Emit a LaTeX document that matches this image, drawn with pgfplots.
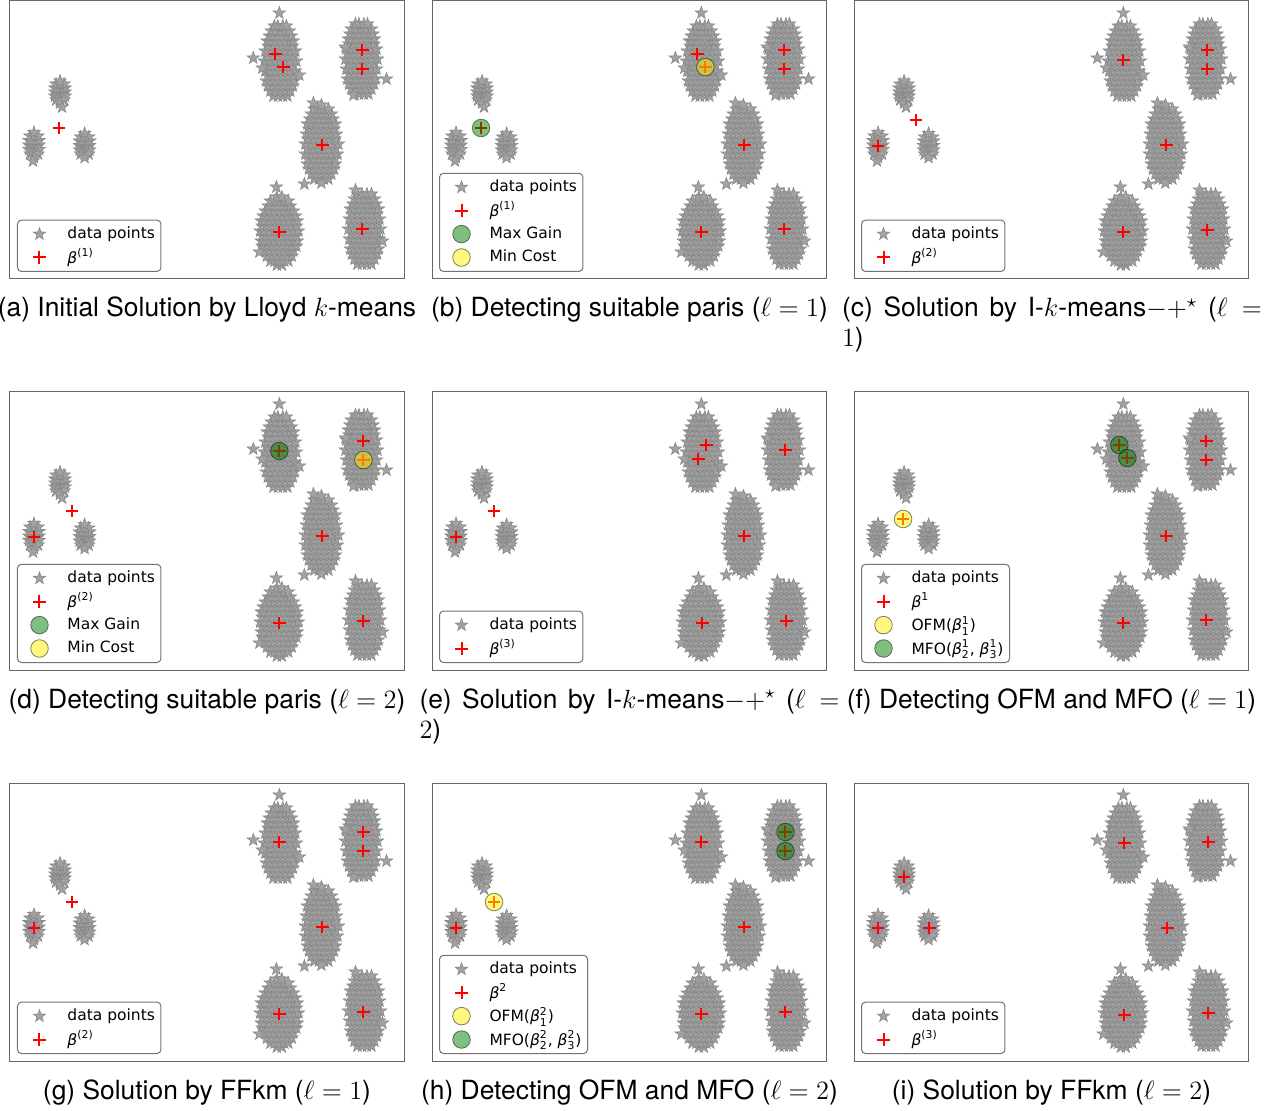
\RequirePackage{fix-cm}
\documentclass[border=0pt]{standalone}
\usepackage{amsmath}
\usepackage{fontspec}
\setmainfont{TeX Gyre Heros}
\newfontfamily\dejavu{DejaVu Sans}
\usepackage{pgfplots}
\pgfplotsset{compat=1.18}
\usepackage{pgfplotstable}
\usetikzlibrary{plotmarks}

\definecolor{starfill}{RGB}{162,162,162}
\definecolor{staredge}{RGB}{136,136,136}
\definecolor{mgreen}{RGB}{0,128,0}

\pgfdeclareplotmark{fstar}{%
  \pgfpathmoveto{\pgfpointpolar{90}{\pgfplotmarksize}}%
  \pgfpathlineto{\pgfpointpolar{126}{0.4\pgfplotmarksize}}%
  \pgfpathlineto{\pgfpointpolar{162}{\pgfplotmarksize}}%
  \pgfpathlineto{\pgfpointpolar{198}{0.4\pgfplotmarksize}}%
  \pgfpathlineto{\pgfpointpolar{234}{\pgfplotmarksize}}%
  \pgfpathlineto{\pgfpointpolar{270}{0.4\pgfplotmarksize}}%
  \pgfpathlineto{\pgfpointpolar{306}{\pgfplotmarksize}}%
  \pgfpathlineto{\pgfpointpolar{342}{0.4\pgfplotmarksize}}%
  \pgfpathlineto{\pgfpointpolar{18}{\pgfplotmarksize}}%
  \pgfpathlineto{\pgfpointpolar{54}{0.4\pgfplotmarksize}}%
  \pgfpathclose
  \pgfusepathqfillstroke
}

\newcommand{\B}{\textit{β}}

% data points: one row per point (x y), several points per source line
\pgfplotstableread[row sep=\\]{
x y\\
263 183\\ 267.5 183\\ 272.5 183\\ 277 183\\
260 188\\ 265 188\\ 270 188\\ 275 188\\ 280 188\\
257.5 193\\ 262.5 193\\ 267.5 193\\ 272.5 193\\ 277.5 193\\ 282.5 193\\
256 198\\ 260 198\\ 265 198\\ 270 198\\ 275 198\\ 280 198\\ 284 198\\
257.5 203\\ 262.5 203\\ 267.5 203\\ 272.5 203\\ 277.5 203\\ 282.5 203\\
255 208\\ 260 208\\ 265 208\\ 270 208\\ 275 208\\ 280 208\\ 285 208\\
257.5 213\\ 262.5 213\\ 267.5 213\\ 272.5 213\\ 277.5 213\\ 282.5 213\\
254 218\\ 260 218\\ 265 218\\ 270 218\\ 275 218\\ 280 218\\ 286 218\\
257.5 223\\ 262.5 223\\ 267.5 223\\ 272.5 223\\ 277.5 223\\ 282.5 223\\
255 228\\ 260 228\\ 265 228\\ 270 228\\ 275 228\\ 280 228\\ 285 228\\
258 233\\ 262.5 233\\ 267.5 233\\ 272.5 233\\ 277.5 233\\ 282 233\\
257 238\\ 260 238\\ 265 238\\ 270 238\\ 275 238\\ 280 238\\ 283 238\\
259 243\\ 262.5 243\\ 267.5 243\\ 272.5 243\\ 277.5 243\\ 281 243\\
261 248\\ 265 248\\ 270 248\\ 275 248\\ 279 248\\
264 253\\ 267.5 253\\ 272.5 253\\ 276 253\\
269 266\\ 243 221\\ 289 204\\ 252 211\\
344 185\\ 348.5 185\\ 353.5 185\\ 358 185\\
341 190\\ 346 190\\ 351 190\\ 356 190\\ 361 190\\
338.5 195\\ 343.5 195\\ 348.5 195\\ 353.5 195\\ 358.5 195\\ 363.5 195\\
337 200\\ 341 200\\ 346 200\\ 351 200\\ 356 200\\ 361 200\\ 365 200\\
338.5 205\\ 343.5 205\\ 348.5 205\\ 353.5 205\\ 358.5 205\\ 363.5 205\\
336 210\\ 341 210\\ 346 210\\ 351 210\\ 356 210\\ 361 210\\ 366 210\\
338.5 215\\ 343.5 215\\ 348.5 215\\ 353.5 215\\ 358.5 215\\ 363.5 215\\
335 220\\ 341 220\\ 346 220\\ 351 220\\ 356 220\\ 361 220\\ 367 220\\
338.5 225\\ 343.5 225\\ 348.5 225\\ 353.5 225\\ 358.5 225\\ 363.5 225\\
336 230\\ 341 230\\ 346 230\\ 351 230\\ 356 230\\ 361 230\\ 366 230\\
338.5 235\\ 343.5 235\\ 348.5 235\\ 353.5 235\\ 358.5 235\\ 363.5 235\\
338 240\\ 341 240\\ 346 240\\ 351 240\\ 356 240\\ 361 240\\ 364 240\\
339.5 245\\ 343.5 245\\ 348.5 245\\ 353.5 245\\ 358.5 245\\ 362.5 245\\
341 250\\ 346 250\\ 351 250\\ 356 250\\ 361 250\\
345 255\\ 348.5 255\\ 353.5 255\\ 357 255\\
376 200\\ 343 184\\ 335 232\\
304 100\\ 308.5 100\\ 313.5 100\\ 318 100\\
301 105\\ 306 105\\ 311 105\\ 316 105\\ 321 105\\
298.5 110\\ 303.5 110\\ 308.5 110\\ 313.5 110\\ 318.5 110\\ 323.5 110\\
297 115\\ 301 115\\ 306 115\\ 311 115\\ 316 115\\ 321 115\\ 325 115\\
297.5 120\\ 303.5 120\\ 308.5 120\\ 313.5 120\\ 318.5 120\\ 324.5 120\\
295 125\\ 301 125\\ 306 125\\ 311 125\\ 316 125\\ 321 125\\ 327 125\\
297.5 130\\ 303.5 130\\ 308.5 130\\ 313.5 130\\ 318.5 130\\ 324.5 130\\
295 135\\ 301 135\\ 306 135\\ 311 135\\ 316 135\\ 321 135\\ 328 135\\
297.5 140\\ 303.5 140\\ 308.5 140\\ 313.5 140\\ 318.5 140\\ 324.5 140\\
296 145\\ 301 145\\ 306 145\\ 311 145\\ 316 145\\ 321 145\\ 326 145\\
298.5 150\\ 303.5 150\\ 308.5 150\\ 313.5 150\\ 318.5 150\\ 323.5 150\\
297 155\\ 301 155\\ 306 155\\ 311 155\\ 316 155\\ 321 155\\ 325 155\\
299.5 160\\ 303.5 160\\ 308.5 160\\ 313.5 160\\ 318.5 160\\ 322.5 160\\
301 165\\ 306 165\\ 311 165\\ 316 165\\ 321 165\\
304 170\\ 308.5 170\\ 313.5 170\\ 318 170\\
311 96\\ 311 174\\ 294 95\\ 303 176\\
266.5 14\\ 271.5 14\\
260 18\\ 264 18\\ 269 18\\ 274 18\\ 278 18\\
256.5 23\\ 261.5 23\\ 266.5 23\\ 271.5 23\\ 276.5 23\\ 281.5 23\\
255 28\\ 259 28\\ 264 28\\ 269 28\\ 274 28\\ 279 28\\ 283 28\\
252 33\\ 256.5 33\\ 261.5 33\\ 266.5 33\\ 271.5 33\\ 276.5 33\\ 281.5 33\\ 286 33\\
251 38\\ 254 38\\ 259 38\\ 264 38\\ 269 38\\ 274 38\\ 279 38\\ 284 38\\ 287 38\\
252 43\\ 256.5 43\\ 261.5 43\\ 266.5 43\\ 271.5 43\\ 276.5 43\\ 281.5 43\\ 286 43\\
250 48\\ 254 48\\ 259 48\\ 264 48\\ 269 48\\ 274 48\\ 279 48\\ 284 48\\ 288 48\\
252 53\\ 256.5 53\\ 261.5 53\\ 266.5 53\\ 271.5 53\\ 276.5 53\\ 281.5 53\\ 286 53\\
251 58\\ 254 58\\ 259 58\\ 264 58\\ 269 58\\ 274 58\\ 279 58\\ 284 58\\ 287 58\\
253 63\\ 256.5 63\\ 261.5 63\\ 266.5 63\\ 271.5 63\\ 276.5 63\\ 281.5 63\\ 285 63\\
255 68\\ 259 68\\ 264 68\\ 269 68\\ 274 68\\ 279 68\\ 283 68\\
258 73\\ 261.5 73\\ 266.5 73\\ 271.5 73\\ 276.5 73\\ 280 73\\
260 78\\ 264 78\\ 269 78\\ 274 78\\ 278 78\\
266.5 82\\ 271.5 82\\
266 92\\ 249 27\\
347 15\\ 351.5 15\\ 356.5 15\\ 361 15\\
344 20\\ 349 20\\ 354 20\\ 359 20\\ 364 20\\
341.5 25\\ 346.5 25\\ 351.5 25\\ 356.5 25\\ 361.5 25\\ 366.5 25\\
340 30\\ 344 30\\ 349 30\\ 354 30\\ 359 30\\ 364 30\\ 368 30\\
341.5 35\\ 346.5 35\\ 351.5 35\\ 356.5 35\\ 361.5 35\\ 366.5 35\\
339 40\\ 344 40\\ 349 40\\ 354 40\\ 359 40\\ 364 40\\ 369 40\\
341.5 45\\ 346.5 45\\ 351.5 45\\ 356.5 45\\ 361.5 45\\ 366.5 45\\
338 50\\ 344 50\\ 349 50\\ 354 50\\ 359 50\\ 364 50\\ 370 50\\
341.5 55\\ 346.5 55\\ 351.5 55\\ 356.5 55\\ 361.5 55\\ 366.5 55\\
339 60\\ 344 60\\ 349 60\\ 354 60\\ 359 60\\ 364 60\\ 369 60\\
341.5 65\\ 346.5 65\\ 351.5 65\\ 356.5 65\\ 361.5 65\\ 366.5 65\\
340 70\\ 344 70\\ 349 70\\ 354 70\\ 359 70\\ 364 70\\ 368 70\\
342.5 75\\ 346.5 75\\ 351.5 75\\ 356.5 75\\ 361.5 75\\ 365.5 75\\
344 80\\ 349 80\\ 354 80\\ 359 80\\ 364 80\\
347 85\\ 351.5 85\\ 356.5 85\\ 361 85\\
345 89\\ 372 38\\
45 187\\ 50 187\\ 55 187\\
45 183\\ 47.5 183\\ 52.5 183\\ 55 183\\
45 191\\ 47.5 191\\ 52.5 191\\ 55 191\\
46 179\\ 50 179\\ 54 179\\
46 195\\ 50 195\\ 54 195\\
50 176\\ 50 198\\ 52 172\\
19 134\\ 24 134\\ 29 134\\
19 129.5\\ 21.5 129.5\\ 26.5 129.5\\ 29 129.5\\
19 138.5\\ 21.5 138.5\\ 26.5 138.5\\ 29 138.5\\
20 125\\ 24 125\\ 28 125\\
20 143\\ 24 143\\ 28 143\\
24 121.5\\ 24 146.5\\ 23 118\\
69.5 133.5\\ 74.5 133.5\\ 79.5 133.5\\
69.5 129\\ 72 129\\ 77 129\\ 79.5 129\\
69.5 138\\ 72 138\\ 77 138\\ 79.5 138\\
70.5 125\\ 74.5 125\\ 78.5 125\\
70.5 142\\ 74.5 142\\ 78.5 142\\
74.5 121.5\\ 74.5 145.5\\
}\datapts

\pgfplotstableread{
x y
265 225
273 212
352 229
352 210
312 134
49 151
269 47
352 50
}\betaA

\pgfplotstableread{
x y
269 219
353 229
353 210
312 134
62 159
24 133
269 47
353 49
}\betaB

\pgfplotstableread{
x y
274 225
266 211
353 220
312 134
62 159
24 133
270 47
354 49
}\betaC

\pgfplotstableread{
x y
270 218
354 219
313 133
50 184
24 133
75 133
270 46
354 48
}\betaD

\pgfplotsset{
  panel/.style={scale only axis, width=197.25pt, height=139pt,
    xmin=0, xmax=394, ymin=0, ymax=278, xtick=\empty, ytick=\empty,
    axis line style={draw=black!60, line width=0.5pt},
    legend cell align=left,
    legend style={at={(0,0)}, anchor=south west, xshift=3.5pt, yshift=3.5pt,
      draw=black!55, line width=0.5pt, rounded corners=2pt,
      inner xsep=1.5pt, inner ysep=2.5pt, row sep=2.7pt,
      font=\dejavu\fontsize{7.75}{9}\selectfont,
      nodes={inner xsep=1.5pt, inner ysep=0pt}}},
  lim/.style={legend image code/.code={\path[draw=none,fill=none] (-9.5pt,-4.5pt) (12.5pt,4.5pt);
      \draw[sharp corners,##1] plot coordinates {(0pt,0pt)};}},
  stars/.style={only marks, mark=fstar, mark size=3.25pt,
    mark options={fill=starfill, draw=staredge, line width=0.3pt}, lim},
  beta/.style={only marks, mark=+, mark size=3.2pt, color=red,
    mark options={line width=1pt}, lim},
  gc/.style={only marks, mark=*, mark size=4.4pt,
    mark options={fill=mgreen, draw=black, line width=0.4pt, opacity=0.5}, lim},
  yc/.style={only marks, mark=*, mark size=4.4pt,
    mark options={fill=yellow, draw=black, line width=0.4pt, opacity=0.5}, lim},
}

\tikzset{captxt/.style={anchor=base, inner sep=0pt, font=\fontsize{13.2}{15}\selectfont}}

\begin{document}
\begin{tikzpicture}
\path[use as bounding box] (0pt,0pt) rectangle (639pt,-555.5pt);

% (a)
\begin{axis}[panel, at={(5pt,-0.5pt)}, anchor=north west]
\addplot[stars] table {\datapts}; \addlegendentry{data points}
\addplot[beta] table {\betaA}; \addlegendentry{\B$^{\text{(1)}}$}
\end{axis}
% (b)
\begin{axis}[panel, at={(216pt,-0.5pt)}, anchor=north west]
\addplot[stars] table {\datapts}; \addlegendentry{data points}
\addplot[beta] table {\betaA}; \addlegendentry{\B$^{\text{(1)}}$}
\addplot[gc] coordinates {(49,151)}; \addlegendentry{Max Gain}
\addplot[yc] coordinates {(273,212)}; \addlegendentry{Min Cost}
\end{axis}
% (c)
\begin{axis}[panel, at={(427pt,-0.5pt)}, anchor=north west]
\addplot[stars] table {\datapts}; \addlegendentry{data points}
\addplot[beta] table {\betaB}; \addlegendentry{\B$^{\text{(2)}}$}
\end{axis}
% (d)
\begin{axis}[panel, at={(5pt,-196pt)}, anchor=north west]
\addplot[stars] table {\datapts}; \addlegendentry{data points}
\addplot[beta] table {\betaB}; \addlegendentry{\B$^{\text{(2)}}$}
\addplot[gc] coordinates {(269,219)}; \addlegendentry{Max Gain}
\addplot[yc] coordinates {(353,210)}; \addlegendentry{Min Cost}
\end{axis}
% (e)
\begin{axis}[panel, at={(216pt,-196pt)}, anchor=north west]
\addplot[stars] table {\datapts}; \addlegendentry{data points}
\addplot[beta] table {\betaC}; \addlegendentry{\B$^{\text{(3)}}$}
\end{axis}
% (f)
\begin{axis}[panel, at={(427pt,-196pt)}, anchor=north west]
\addplot[stars] table {\datapts}; \addlegendentry{data points}
\addplot[beta] table {\betaA}; \addlegendentry{\B$^{\text{1}}$}
\addplot[yc] coordinates {(49,151)}; \addlegendentry{OFM(\B$^{\text{1}}_{\text{1}}$)}
\addplot[gc] coordinates {(265,225) (273,212)}; \addlegendentry{MFO(\B$^{\text{1}}_{\text{2}}$, \B$^{\text{1}}_{\text{3}}$)}
\end{axis}
% (g)
\begin{axis}[panel, at={(5pt,-391.5pt)}, anchor=north west]
\addplot[stars] table {\datapts}; \addlegendentry{data points}
\addplot[beta] table {\betaB}; \addlegendentry{\B$^{\text{(2)}}$}
\end{axis}
% (h)
\begin{axis}[panel, at={(216pt,-391.5pt)}, anchor=north west]
\addplot[stars] table {\datapts}; \addlegendentry{data points}
\addplot[beta] table {\betaB}; \addlegendentry{\B$^{\text{2}}$}
\addplot[yc] coordinates {(62,159)}; \addlegendentry{OFM(\B$^{\text{2}}_{\text{1}}$)}
\addplot[gc] coordinates {(353,229) (353,210)}; \addlegendentry{MFO(\B$^{\text{2}}_{\text{2}}$, \B$^{\text{2}}_{\text{3}}$)}
\end{axis}
% (i)
\begin{axis}[panel, at={(427pt,-391.5pt)}, anchor=north west]
\addplot[stars] table {\datapts}; \addlegendentry{data points}
\addplot[beta] table {\betaD}; \addlegendentry{\B$^{\text{(3)}}$}
\end{axis}

% captions
\node[captxt] at (103.5pt,-158.5pt) {(a) Initial Solution by Lloyd $k$-means};
\node[captxt] at (314.75pt,-158.5pt) {(b) Detecting suitable paris ($\ell = 1$)};
\node[captxt] at (526pt,-158.5pt) {\parbox[t]{210pt}{(c) Solution by I-$k$-means$-+^\star$ ($\ell =$\linebreak $1$)}};
\node[captxt] at (103.5pt,-354pt) {(d) Detecting suitable paris ($\ell = 2$)};
\node[captxt] at (314.75pt,-354pt) {\parbox[t]{210pt}{(e) Solution by I-$k$-means$-+^\star$ ($\ell =$\linebreak $2$)}};
\node[captxt] at (525.75pt,-354pt) {(f) Detecting OFM and MFO ($\ell = 1$)};
\node[captxt] at (103.5pt,-549.5pt) {(g) Solution by FFkm ($\ell = 1$)};
\node[captxt] at (314.75pt,-549.5pt) {(h) Detecting OFM and MFO ($\ell = 2$)};
\node[captxt] at (525.75pt,-549.5pt) {(i) Solution by FFkm ($\ell = 2$)};
\end{tikzpicture}
\end{document}
